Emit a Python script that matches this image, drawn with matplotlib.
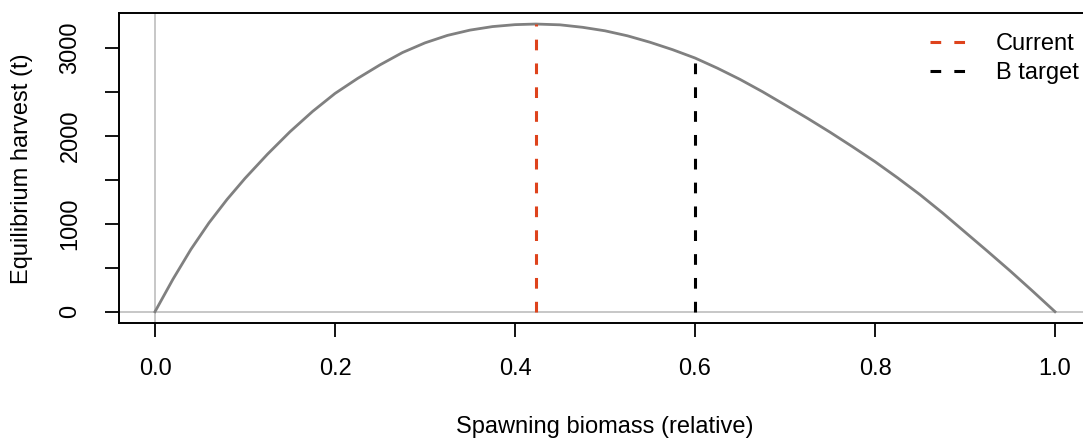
import matplotlib
matplotlib.use("Agg")
import matplotlib.pyplot as plt
from matplotlib.lines import Line2D

plt.rcParams['font.family'] = ['Liberation Sans', 'DejaVu Sans']

# equilibrium yield curve
biomass = [0.0, 0.02, 0.04, 0.06, 0.08, 0.10, 0.125, 0.15, 0.175, 0.20,
           0.225, 0.25, 0.275, 0.30, 0.325, 0.35, 0.375, 0.40, 0.423, 0.45,
           0.475, 0.50, 0.525, 0.55, 0.575, 0.60, 0.625, 0.65, 0.675, 0.70,
           0.725, 0.75, 0.775, 0.80, 0.825, 0.85, 0.875, 0.90, 0.925, 0.95,
           0.975, 1.0]
harvest = [0, 370, 710, 1010, 1275, 1515, 1790, 2045, 2275, 2480,
           2650, 2805, 2945, 3055, 3140, 3200, 3240, 3262, 3269, 3260,
           3232, 3192, 3135, 3062, 2978, 2883, 2767, 2640, 2500, 2350,
           2198, 2040, 1875, 1705, 1522, 1330, 1123, 905, 687, 465,
           235, 0]

current_b = 0.423
current_h = 3269
target_b = 0.6
target_h = 2883

xticks = [0.0, 0.2, 0.4, 0.6, 0.8, 1.0]
xticklabels = ['0.0', '0.2', '0.4', '0.6', '0.8', '1.0']
yticks = [0, 500, 1000, 1500, 2000, 2500, 3000]
yticklabels = ['0', '', '1000', '', '2000', '', '3000']

red = '#DE431C'
fs = 17

fig = plt.figure(figsize=(10.83, 4.38), dpi=100)
ax = fig.add_axes([119 / 1083, 1 - 323.3 / 438, 972 / 1083, 310 / 438])

ax.axvline(0, color='#BEBEBE', lw=1.2, zorder=1)
ax.axhline(0, color='#BEBEBE', lw=1.2, zorder=1)
ax.plot(biomass, harvest, color='#808080', lw=2, zorder=2)

dash = (0, (3.5, 4.3))
ax.plot([current_b, current_b], [0, current_h], color=red, lw=2.2, linestyle=dash, zorder=3)
ax.plot([target_b, target_b], [0, target_h], color='black', lw=2.2, linestyle=dash, zorder=3)

ax.set_xlim(-0.04, 1.04)
ax.set_ylim(-132, 3391)
ax.set_xticks(xticks, xticklabels)
ax.set_yticks(yticks, yticklabels)
ax.tick_params(axis='both', length=10, width=1.3, labelsize=fs, direction='out')
ax.tick_params(axis='x', pad=15)
ax.tick_params(axis='y', pad=17)
for lab in ax.get_yticklabels():
    lab.set_rotation(90)
    lab.set_va('center')
for sp in ax.spines.values():
    sp.set_linewidth(1.4)

ax.set_xlabel('Spawning biomass (relative)', fontsize=fs, labelpad=26)
ax.set_ylabel('Equilibrium harvest (t)', fontsize=fs, labelpad=19)

handles = [Line2D([], [], color=red, lw=2.2, linestyle=dash),
           Line2D([], [], color='black', lw=2.2, linestyle=dash)]
ax.legend(handles, ['Current', 'B target'], loc='upper right', frameon=False,
          bbox_to_anchor=(1 - 2.7 / 972, 1 - 10.6 / 310), borderaxespad=0,
          fontsize=fs, handlelength=1.48, handletextpad=1.3, labelspacing=0.28,
          borderpad=0.4)

fig.savefig('out.png', dpi=100)
